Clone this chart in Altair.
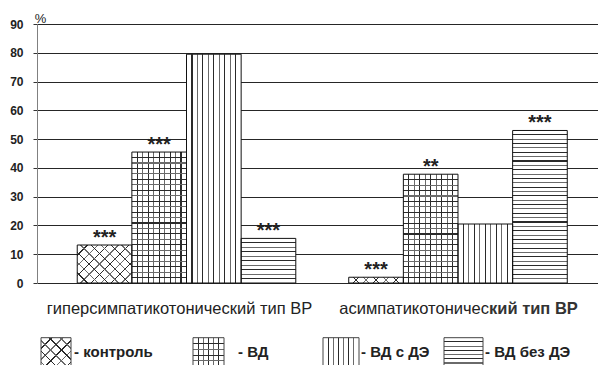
import math
import altair as alt
import pandas as pd

# ---------------- data ----------------
groups = ["гиперсимпатикотонический тип ВР", "асимпатикотонический тип ВР"]
series = ["контроль", "ВД", "ВД с ДЭ", "ВД без ДЭ"]
values_hyper = [13.2, 45.5, 79.5, 15.5]
values_asym = [2.0, 37.8, 20.5, 53.0]
stars_hyper = ["***", "***", "", "***"]
stars_asym = ["***", "**", "", "***"]
legend_labels = ["- контроль", "- ВД", "- ВД с ДЭ", "- ВД без ДЭ"]
y_ticks = [0, 10, 20, 30, 40, 50, 60, 70, 80, 90]
# second category label is printed half regular, half bold in the original
label2_parts = ["асимпатикотоничес", "кий тип ВР"]

rows = []
for gi, (g, vals, st) in enumerate([(groups[0], values_hyper, stars_hyper),
                                     (groups[1], values_asym, stars_asym)]):
    for si, s in enumerate(series):
        rows.append({"group": g, "series": s, "value": vals[si], "star": st[si],
                     "key": f"{gi}-{si}", "si": si})
df = pd.DataFrame(rows)

# ---------------- layout / style ----------------
PLOT_W, PLOT_H = 561, 259
Y_MAX = 90
PAD_IN, PAD_OUT, ALIGN = 0.195, 0.1307, 0.567
step = PLOT_W / (len(groups) - PAD_IN + 2 * PAD_OUT)
BAR_W = step * (1 - PAD_IN) / len(series)
FONT = "Liberation Sans"
INK = "#222222"
LINE_A = "#2a2a2a"
LINE_B = "#6a6a6a"
WHITE = "#ffffff"
CLEAR = "rgba(255,255,255,0)"
CAT_FONT_SIZE = 16.5

LEG_BOX_X = [(4, 34), (156, 187), (286, 322), (407, 446)]
LEG_BOX_Y = (313.7, 360)
LEG_TEXT_X = [37, 201, 324, 448]
LEG_TEXT_Y = 327.7


def px_h(v):
    return v / Y_MAX * PLOT_H


def _stops(centers, half, bg):
    stops = [{"offset": 0, "color": bg}]
    last = 0.0
    for i, c in enumerate(centers):
        col = LINE_A if i % 2 == 0 else LINE_B
        a = max(last, min(1.0, c - half))
        b = max(a, min(1.0, c + half))
        stops += [{"offset": round(a, 5), "color": bg},
                  {"offset": round(a, 5), "color": col},
                  {"offset": round(b, 5), "color": col},
                  {"offset": round(b, 5), "color": bg}]
        last = b
    stops.append({"offset": 1, "color": bg})
    return stops


def stripes(length_px, spacing, vertical_lines, bg, lw=1.1):
    n = max(1, round(length_px / spacing))
    centers = [k / n for k in range(1, n)]
    half = lw / 2 / max(length_px, 1)
    g = {"gradient": "linear", "stops": _stops(centers, half, bg)}
    if vertical_lines:
        g.update({"x1": 0, "y1": 0, "x2": 1, "y2": 0})
    else:
        g.update({"x1": 0, "y1": 0, "x2": 0, "y2": 1})
    return g


def diag(W, H, spacing, forward, bg, lw=0.9):
    total = W + H
    n = max(1, round(total / spacing))
    centers = [k / n for k in range(1, n)]
    half = lw / 2 * math.sqrt(2) / total
    k = total / (W * W + H * H)
    a, b = k * W, k * H
    g = {"gradient": "linear", "stops": _stops(centers, half, bg)}
    if forward:
        g.update({"x1": 0, "y1": 0, "x2": round(a, 5), "y2": round(b, 5)})
    else:
        g.update({"x1": 0, "y1": 1, "x2": round(a, 5), "y2": round(1 - b, 5)})
    return g


def patterns(si, W, H):
    if si == 0:
        return [diag(W, H, 10.5, True, WHITE), diag(W, H, 10.5, False, CLEAR)]
    if si == 1:
        return [stripes(W, 5.46, True, WHITE), stripes(H, 5.5, False, CLEAR)]
    if si == 2:
        return [stripes(W, 5.46, True, WHITE)]
    return [stripes(H, 4.4, False, WHITE)]


y_scale = alt.Scale(domain=[0, Y_MAX], nice=False, zero=True)
y_axis = alt.Axis(values=y_ticks, title="%", grid=True, labelOverlap=False)

x_enc = alt.X("group:N", axis=None,
              scale=alt.Scale(domain=groups, paddingInner=PAD_IN,
                              paddingOuter=PAD_OUT, align=ALIGN))
xo_enc = alt.XOffset("series:N",
                     scale=alt.Scale(domain=series, paddingInner=0, paddingOuter=0))
y_enc = alt.Y("value:Q", scale=y_scale, axis=y_axis)
y_zero = alt.Y(datum=0, type="quantitative", scale=y_scale, axis=y_axis)

base = alt.Chart(df)
layers = []
for r in rows:
    W, H = BAR_W, px_h(r["value"])
    for f in patterns(r["si"], W, H):
        layers.append(
            base.transform_filter(alt.datum.key == r["key"])
            .mark_bar(fill=f, strokeWidth=0)
            .encode(x=x_enc, xOffset=xo_enc, y=y_enc)
        )

outline = base.mark_bar(fillOpacity=0, stroke="#111111", strokeWidth=1).encode(
    x=x_enc, xOffset=xo_enc, y=y_enc)
layers.append(outline)

stars = base.mark_text(font=FONT, fontSize=20, fontWeight="bold", color=INK,
                       baseline="alphabetic", dy=-1).encode(
    x=x_enc, xOffset=xo_enc, y=y_enc, text="star:N")
layers.append(stars)

# category labels
layers.append(
    alt.Chart(pd.DataFrame({"group": [groups[0]]}))
    .mark_text(font=FONT, fontSize=CAT_FONT_SIZE, color=INK, baseline="middle",
               dx=-7, dy=26)
    .encode(x=x_enc, y=y_zero, text="group:N")
)
g2 = pd.DataFrame({"group": [groups[1]], "p1": [label2_parts[0]], "p2": [label2_parts[1]]})
layers.append(
    alt.Chart(g2).mark_text(font=FONT, fontSize=CAT_FONT_SIZE, color=INK, baseline="middle",
                            align="right", dx=31, dy=26)
    .encode(x=x_enc, y=y_zero, text="p1:N")
)
layers.append(
    alt.Chart(g2).mark_text(font=FONT, fontSize=CAT_FONT_SIZE, fontWeight="bold", color="#333333",
                            baseline="middle", align="left", dx=31, dy=26)
    .encode(x=x_enc, y=y_zero, text="p2:N")
)

# custom legend
for si, lab in enumerate(legend_labels):
    x0, x1 = LEG_BOX_X[si]
    W, H = x1 - x0, LEG_BOX_Y[1] - LEG_BOX_Y[0]
    one = alt.Chart(pd.DataFrame({"label": [lab]}))
    for f in patterns(si, W, H):
        layers.append(one.mark_rect(fill=f, strokeWidth=0).encode(
            x=alt.value(x0), x2=alt.value(x1),
            y=alt.value(LEG_BOX_Y[0]), y2=alt.value(LEG_BOX_Y[1])))
    layers.append(one.mark_rect(fillOpacity=0, stroke="#444444", strokeWidth=1).encode(
        x=alt.value(x0), x2=alt.value(x1),
        y=alt.value(LEG_BOX_Y[0]), y2=alt.value(LEG_BOX_Y[1])))
    layers.append(one.mark_text(font=FONT, fontSize=15, fontWeight="bold", color=INK,
                                align="left", baseline="middle").encode(
        x=alt.value(LEG_TEXT_X[si]), y=alt.value(LEG_TEXT_Y), text="label:N"))

chart = (
    alt.layer(*layers)
    .properties(width=PLOT_W, height=PLOT_H,
                autosize=alt.AutoSizeParams(type="none"),
                padding={"left": 29, "top": 16, "right": 0, "bottom": 82})
    .configure_view(stroke=None)
    .configure_axisY(
        domainColor="#808080", domainWidth=1,
        gridColor="#262626", gridWidth=1.1,
        tickColor="#333333", tickSize=4, tickWidth=1,
        labelFont=FONT, labelFontSize=12, labelFontWeight="bold", labelColor=INK,
        labelPadding=10,
        titleFont=FONT, titleFontSize=13, titleFontWeight="normal", titleColor=INK,
        titleAngle=0, titleX=3, titleY=-6, titleAlign="center", titleBaseline="middle",
    )
)

chart.save("out.html", embed_options={"renderer": "svg", "actions": False})
